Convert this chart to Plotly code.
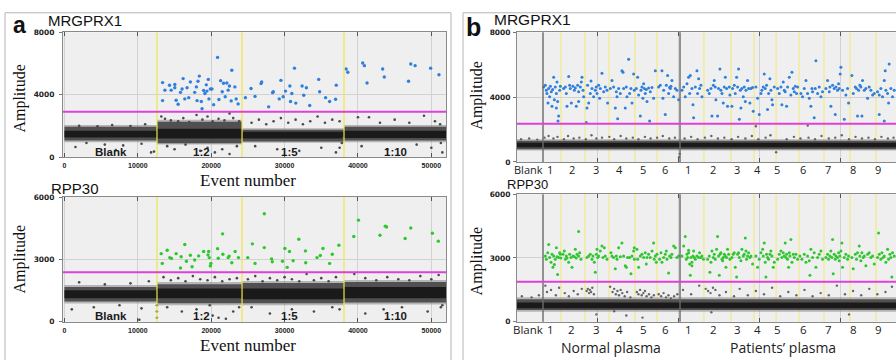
import plotly.graph_objects as go

W, H = 896, 360

# ---------------- DATA ----------------
# Panel a: dilution series (event number, amplitude)
a_seg_bounds = [0, 12610, 24200, 38100, 52000]
a_seg_labels = ["Blank", "1:2", "1:5", "1:10"]
a_seg_label_x = [6280, 18700, 30700, 45060]

a_mrg_threshold = 2900
a_rpp_threshold = 2380

# negative droplet band per segment (low, high)
a_mrg_band_halo = [(950, 2050), (800, 2400), (920, 1850), (950, 2050)]
a_mrg_band_outer = [(1060, 1940), (890, 2270), (1000, 1750), (1060, 1940)]
a_mrg_band_core = [(1250, 1690), (1190, 1810), (1190, 1620), (1230, 1690)]
a_rpp_band_halo = [(880, 1770), (800, 1910), (800, 1960), (840, 2010)]
a_rpp_band_outer = [(975, 1680), (895, 1810), (895, 1870), (930, 1920)]
a_rpp_band_core = [(1130, 1520), (1130, 1600), (1085, 1600), (1130, 1680)]

a_mrg_pos = [
    (13370, 4775), (13370, 3620), (13690, 4290), (14320, 4600), (14540, 4290), (15040, 4650),
    (15040, 4440), (15220, 3640), (15490, 3390), (15810, 4150), (16030, 4360), (16170, 5030),
    (16400, 3730), (16710, 4440), (16940, 3810), (17160, 4820), (17750, 4150), (17980, 4500),
    (18070, 3620), (18200, 4860), (18380, 5190), (18650, 3560), (18750, 3100), (18970, 4270),
    (19150, 4080), (19330, 4630), (19420, 4230), (19600, 4980), (19690, 3730), (19880, 4360),
    (20100, 4360), (20330, 3350), (20870, 6390), (21050, 3690), (21280, 4900), (21500, 4190),
    (21680, 4730), (21910, 3870), (22130, 4750), (22310, 4290), (22490, 4560), (22720, 3600),
    (22810, 5570), (23220, 4500), (23400, 3730), (23670, 3410), (24660, 3810), (25430, 4400),
    (25970, 3890), (26790, 4710), (26880, 4820), (27830, 3220), (28370, 4130), (28460, 4190),
    (29270, 3730), (29500, 4920), (29810, 3870), (30130, 4230), (30720, 4560), (30810, 3560),
    (30990, 4080), (31350, 5700), (31530, 3460), (32390, 4560), (32610, 3960), (32970, 4440),
    (33430, 3310), (34650, 4980), (34780, 4190), (35590, 3810), (36140, 3560), (36950, 3710),
    (37040, 4610), (38390, 5650), (38620, 5440), (40650, 6030), (40880, 5860), (41240, 4750),
    (43370, 5650), (43590, 5130), (46890, 4860), (47200, 5970), (47790, 5860), (49910, 5700),
    (51040, 5280),
]
a_mrg_rain = [
    (2000, 2000), (4500, 1980), (6500, 2050), (9000, 1990), (11000, 2100), (3000, 900),
    (5500, 800), (8000, 750), (10500, 850), (11800, 300), (12200, 350), (1500, 650), (7000, 450),
    (13200, 2600), (13700, 2450), (14500, 2350), (15500, 2300), (16200, 2500), (17000, 2250),
    (18000, 2700), (18800, 2400), (19500, 2600), (20200, 2300), (21000, 2450), (21800, 2350),
    (22500, 2800), (23000, 2500), (23800, 2300), (14000, 700), (15000, 500), (16500, 800),
    (18500, 400), (19500, 600), (20500, 300), (21500, 500), (22500, 200), (23500, 700),
    (25500, 2200), (26500, 2400), (27500, 2100), (28500, 2300), (29500, 2500), (30500, 2200),
    (31500, 2400), (32500, 2100), (33500, 2300), (34500, 2600), (35500, 2200), (36500, 2400),
    (37500, 2300), (26000, 700), (29000, 500), (32000, 400), (35000, 600), (37000, 300),
    (37500, 600), (37800, 900), (38000, 1200), (40000, 2550), (41500, 2550), (43000, 2200),
    (45000, 2400), (47000, 2200), (49000, 2650), (50500, 2300), (51200, 2100), (40500, 700),
    (44000, 500), (48000, 800), (50000, 600), (51500, 300), (51300, 900),
]
a_rpp_pos = [
    (13190, 3280), (13330, 2810), (14000, 3440), (14360, 3090), (14590, 3050), (15220, 3280),
    (15810, 2590), (15900, 3130), (16400, 3720), (16620, 2910), (17160, 3200), (17390, 2650),
    (17750, 2970), (18290, 3170), (18970, 3380), (19560, 3220), (19650, 3380), (19740, 3090),
    (19880, 2690), (19960, 2810), (20870, 3520), (20960, 3060), (21550, 4230), (21590, 3250),
    (22310, 3090), (22450, 3160), (22810, 2840), (23260, 3380), (23710, 3090), (24980, 3090),
    (25610, 3750), (25970, 2810), (27240, 5200), (27240, 3570), (28230, 3030), (28320, 2890),
    (29720, 2910), (30040, 3530), (30350, 2620), (30670, 3380), (31170, 2940), (31940, 3970),
    (32840, 3410), (32880, 2840), (34420, 3090), (34870, 3190), (35230, 3530), (36140, 2810),
    (36500, 3250), (37400, 3680), (39430, 4100), (40070, 4890), (43000, 4160), (43720, 4600),
    (43900, 4560), (46430, 4010), (47200, 4510), (50140, 4260), (50950, 3880),
]
a_rpp_rain = [
    (2000, 1900), (5500, 1800), (9000, 1850), (11500, 1950), (1000, 600), (4000, 700),
    (7500, 800), (10500, 650), (10200, 100), (12600, 200), (12600, 500), (12600, 800),
    (13500, 2150), (14500, 2000), (15500, 2100), (16500, 1950), (17500, 2200), (18500, 2050),
    (19500, 2000), (20500, 2150), (21500, 1950), (22500, 2050), (23500, 2100), (14000, 700),
    (16000, 500), (18000, 600), (19800, 800), (20200, 300), (21000, 200), (22000, 150),
    (23000, 500), (23800, 700), (25000, 2050), (26000, 2200), (27000, 1950), (28000, 2100),
    (29000, 2000), (30000, 2150), (31000, 2050), (32000, 1950), (33000, 2300), (34000, 2000),
    (35000, 2100), (36000, 1950), (37000, 2150), (25500, 700), (28000, 400), (31000, 600),
    (34000, 500), (36500, 700), (37500, 600), (39500, 2300), (41000, 2100), (42500, 2000),
    (44000, 2150), (45500, 2050), (47000, 2000), (48500, 2200), (50000, 2050), (51000, 2250),
    (41000, 400), (43500, 600), (46000, 700), (49500, 500), (51300, 700), (51500, 800),
]

# Panel b: plasma samples
b_range_end = 46800
b_well_bounds = [3210, 5430, 8400, 11360, 14570, 17290, 20130, 23090, 26430, 29270,
                 31990, 34830, 37910, 41130, 44340]
b_separators = [3210, 20130]
b_well_labels = ["Blank", "1", "2", "3", "4", "5", "6", "1", "2", "3", "4", "5", "6", "7", "8", "9"]
b_well_label_x = [1360, 4080, 6790, 9760, 12600, 15560, 18280, 21120, 24210, 27170, 29640,
                  32110, 35320, 38410, 41500, 44580]
b_groups = ["Normal plasma", "Patients\u2019 plasma"]
b_group_x = [11610, 32850]

b_mrg_threshold = 2350
b_rpp_threshold = 1880
b_mrg_band = {"halo": (700, 1400), "outer": (790, 1310), "core": (900, 1185)}
b_rpp_band = {"halo": (470, 1150), "outer": (560, 1060), "core": (640, 915)}

b_mrg_normal = [
    (3290, 4630), (3500, 4730), (3620, 4430), (3700, 4230), (3910, 4530), (4030, 4030),
    (4120, 4670), (4240, 4330), (4400, 4470), (4530, 5230), (4610, 3830), (4730, 4630),
    (4860, 4230), (4940, 4930), (5020, 3730), (5140, 2830), (5060, 2530), (5270, 4430),
    (5350, 4670), (4320, 3430), (3830, 3630), (4860, 3330),
    (5760, 4530), (5970, 4630), (6170, 3430), (6380, 5270), (6580, 4530), (6710, 3630),
    (6910, 4670), (7080, 4430), (7200, 4570), (7320, 3430), (7490, 4730), (7610, 3730),
    (7820, 4630), (7940, 4930), (8020, 5230), (8150, 4430), (8230, 4030), (6090, 4230),
    (6500, 4730), (7610, 4330),
    (8560, 2430), (8640, 3330), (8850, 3630), (9050, 4230), (9140, 4990), (9260, 4530),
    (9460, 4030), (9670, 4430), (9790, 4630), (9880, 4230), (10080, 4730), (10290, 4530),
    (10490, 5470), (10700, 4330), (10900, 4630), (11110, 4430), (11190, 3630), (8720, 4730),
    (10210, 3930),
    (11520, 4530), (11730, 5030), (11930, 4630), (12140, 3330), (12260, 4330), (12430, 2670),
    (12550, 4530), (12760, 4230), (12960, 5630), (13090, 5530), (13170, 4530), (13370, 3330),
    (13500, 4630), (13790, 6340), (13910, 4230), (14070, 4530), (14200, 3630), (14400, 5430),
    (14480, 4430), (12350, 4030), (13580, 4030),
    (14730, 4530), (14900, 5230), (15020, 4130), (15230, 2830), (15310, 4430), (15430, 4630),
    (15550, 3930), (15720, 4530), (15840, 4230), (15970, 4470), (16050, 3730), (16250, 4570),
    (16380, 2530), (16460, 4330), (16670, 4590), (16870, 3930), (17080, 5630), (15640, 4830),
    (17490, 4630), (17690, 4730), (17900, 5630), (18110, 4430), (18310, 2930), (18440, 4730),
    (18600, 5330), (18720, 4230), (18850, 4590), (18930, 4530), (19010, 4670), (19130, 5030),
    (19340, 4030), (19550, 4530), (19750, 4430), (19960, 3830), (18020, 3930),
]
b_mrg_patients = [
    (20370, 4430), (20580, 4630), (20780, 4030), (20990, 4830), (21190, 5230), (21320, 4230),
    (21400, 5330), (21600, 4530), (21730, 3530), (21810, 2730), (22020, 4630), (22220, 5630),
    (22300, 4230), (22550, 4530), (22710, 4730), (22840, 4030), (22430, 5130),
    (23540, 4430), (23740, 4230), (23950, 4530), (24070, 2830), (24240, 4730), (24360, 5030),
    (24560, 3830), (24770, 2830), (24890, 4530), (25060, 5730), (25180, 4430), (25310, 4230),
    (25470, 3630), (25590, 4630), (25720, 5230), (25880, 4530), (26000, 3430), (26210, 4630),
    (26290, 4130), (24480, 4630),
    (26540, 3430), (26620, 4530), (26830, 4730), (26950, 4230), (27120, 5230), (27240, 4630),
    (27360, 5730), (27450, 2630), (27570, 4430), (27650, 3330), (27770, 4530), (27940, 4030),
    (28060, 4630), (28190, 3730), (28270, 4430), (28470, 5030), (28600, 4530), (28760, 3630),
    (28890, 4530), (29090, 4590), (29170, 3130),
    (29500, 4630), (29710, 3930), (29910, 2930), (30120, 4230), (30240, 4430), (30410, 4630),
    (30530, 5430), (30650, 4530), (30820, 4730), (30940, 3230), (31070, 4230), (31230, 5130),
    (31350, 4430), (31480, 3830), (31770, 4630), (31560, 3530),
    (32180, 4530), (32380, 4230), (32590, 4630), (32710, 3530), (32880, 4930), (33000, 4430),
    (33120, 4330), (33290, 3430), (33410, 4630), (33620, 5230), (33820, 4130), (33950, 5530),
    (34110, 4530), (34240, 4330), (34360, 4670), (34520, 4230), (34650, 4630),
    (35060, 4230), (35260, 4030), (35470, 4530), (35680, 5030), (35880, 4230), (36090, 3930),
    (36290, 3430), (36500, 4330), (36700, 2730), (36830, 4530), (36910, 6240), (37120, 4230),
    (37320, 4630), (37530, 4030), (37730, 4330), (36420, 4530),
    (38140, 4530), (38350, 5030), (38560, 4330), (38640, 4630), (38760, 3430), (38970, 4730),
    (39170, 4530), (39300, 2930), (39380, 4630), (39580, 4430), (39710, 4830), (39790, 4530),
    (39910, 5430), (40000, 5840), (40200, 4430), (40410, 2630), (40610, 4130), (40820, 4530),
    (40940, 3630),
    (41350, 5330), (41520, 4230), (41770, 4630), (41930, 4530), (42050, 2830), (42180, 4430),
    (42340, 4730), (42460, 4630), (42590, 2830), (42670, 5030), (42880, 4430), (43080, 4530),
    (43290, 3930), (43490, 4630), (43700, 4430), (43910, 4130), (44110, 4230),
    (44520, 4330), (44730, 4130), (44930, 4530), (45140, 4030), (45350, 5030), (45470, 5630),
    (45550, 4430), (45760, 4230), (45960, 6040), (46170, 4530), (46370, 4030), (46580, 4430),
    (44730, 2930), (45350, 2530), (45880, 3630),
]
b_mrg_rain = [
    (500, 1400), (1500, 1450), (2500, 1380), (3400, 1500), (3900, 1600), (4500, 1450),
    (5000, 1550), (5800, 1400), (6300, 1600), (7000, 1450), (7700, 1500), (8500, 1400),
    (9200, 1650), (9800, 1450), (10500, 1500), (11400, 1550), (12000, 1400), (12800, 1600),
    (13500, 1450), (14300, 1500), (15000, 1400), (15800, 1550), (16500, 1450), (17300, 1500),
    (18000, 1600), (18800, 1450), (19500, 1500), (20100, 500), (20000, 300), (20700, 1450),
    (21500, 1550), (22300, 1400), (23200, 1500), (24000, 1600), (24800, 1450), (25600, 1500),
    (26500, 1400), (27300, 1550), (28200, 1450), (29000, 1600), (29800, 1400), (30700, 1500),
    (31300, 1650), (29500, 2200), (35900, 2250), (33300, 1400), (34200, 1550), (35000, 1450),
    (36000, 1500), (36800, 1400), (37600, 1600), (38500, 1450), (39300, 1500), (40100, 1650),
    (41000, 1400), (41800, 1550), (42600, 1450), (43400, 1500), (44200, 1400), (45000, 1550),
    (45800, 1450), (46500, 1500), (32000, 600),
]
b_rpp_normal = [
    (3500, 3095), (3620, 2945), (3790, 3250), (3910, 3635), (4030, 3025), (4200, 2795),
    (4320, 3175), (4440, 2565), (4530, 3095), (4730, 2945), (4860, 3480), (4940, 3055),
    (5020, 2230), (5140, 3025), (5270, 3250), (5350, 3175), (5400, 2995), (4610, 2690),
    (5680, 3175), (5840, 3330), (5970, 2945), (6090, 3095), (6170, 2995), (6380, 2795),
    (6500, 3175), (6670, 3025), (6790, 2565), (6910, 3095), (7080, 3055), (7200, 3405),
    (7320, 2995), (7410, 3175), (7610, 3095), (7740, 3250), (7900, 2945), (7610, 4245),
    (8640, 3025), (8850, 3095), (9050, 3175), (9260, 2945), (9380, 3095), (9550, 2795),
    (9670, 2335), (9790, 3175), (9880, 3405), (9960, 3025), (10080, 3095), (10290, 3330),
    (10490, 3560), (10620, 3025), (10780, 3480), (10900, 3095), (11110, 2945),
    (11600, 3250), (11730, 3095), (11930, 3025), (12140, 2490), (12260, 3095), (12350, 2945),
    (12550, 3480), (12760, 3055), (12960, 3710), (13170, 3095), (13370, 2640), (13500, 2565),
    (13660, 3025), (13910, 3025), (14070, 2260), (14200, 3095), (14400, 3330), (14480, 3480),
    (14500, 2945),
    (14810, 3405), (14900, 2945), (15020, 2565), (15230, 3095), (15430, 3175), (15640, 3025),
    (15840, 3250), (15970, 2720), (16050, 3025), (16250, 3175), (16460, 3025), (16670, 3330),
    (16870, 3710), (16950, 2945), (17080, 3095), (17200, 2795), (17280, 3175),
    (17610, 2945), (17780, 3250), (17900, 2795), (18110, 3025), (18310, 3175), (18440, 3330),
    (18520, 2945), (18720, 2290), (18850, 3095), (19010, 3025), (19130, 3175), (19340, 3560),
    (19550, 3480), (19750, 3025), (19960, 3095),
]
b_rpp_patients = [
    (20370, 3095), (20580, 3560), (20780, 4015), (20900, 2945), (20990, 3175), (21070, 3025),
    (21190, 3250), (21320, 2720), (21400, 2185), (21480, 3025), (21600, 2795), (21730, 3095),
    (21810, 3330), (21890, 3025), (22020, 2945), (22220, 3095), (22430, 3025), (22550, 3250),
    (22710, 3025), (22840, 3095), (23040, 2945), (21190, 3360), (21600, 2640),
    (23540, 2945), (23740, 3095), (23820, 2335), (23950, 2795), (24070, 3330), (24240, 3025),
    (24360, 3175), (24480, 2945), (24650, 3405), (24770, 4015), (24890, 3095), (24980, 2185),
    (25060, 3175), (25180, 3250), (25310, 2945), (25390, 2870), (25470, 3025), (25590, 3175),
    (25720, 3095), (25800, 2565), (25880, 3025), (26000, 3405), (26130, 3175), (26290, 2945),
    (26540, 3025), (26700, 3175), (26830, 3250), (26950, 2565), (27120, 2105), (27240, 3175),
    (27360, 3250), (27450, 3025), (27650, 2870), (27770, 3405), (27940, 3095), (28060, 3175),
    (28190, 3940), (28270, 3330), (28350, 2945), (28470, 3095), (28600, 3250), (28760, 3025),
    (28890, 3095), (29090, 2720),
    (29500, 3095), (29710, 2565), (29910, 2945), (30120, 3250), (30330, 3405), (30410, 3095),
    (30530, 3710), (30650, 2795), (30740, 2105), (30820, 3175), (30940, 3025), (31070, 2945),
    (31230, 3175), (31350, 3330), (31480, 3095), (31640, 2565), (31770, 2795),
    (32180, 2945), (32380, 3175), (32590, 3330), (32710, 3025), (32880, 3250), (33000, 3095),
    (33120, 3710), (33210, 3025), (33290, 3175), (33410, 2945), (33540, 2565), (33620, 3250),
    (33700, 3095), (33820, 3865), (33950, 2795), (34110, 3175), (34240, 3025), (34440, 3175),
    (34650, 2945),
    (34930, 3095), (35180, 2945), (35470, 3175), (35680, 2795), (35880, 3095), (36090, 2870),
    (36170, 2185), (36290, 3405), (36500, 3025), (36700, 3250), (36910, 2565), (37120, 3025),
    (37320, 3175), (37530, 3330), (37730, 2945),
    (38140, 3025), (38350, 3175), (38470, 2945), (38640, 3095), (38760, 3330), (38880, 3025),
    (38970, 3865), (39050, 2260), (39170, 3175), (39300, 2945), (39380, 3095), (39580, 3025),
    (39710, 3250), (39790, 2870), (39870, 3095), (40000, 3330), (40120, 3710), (40200, 2565),
    (40410, 3025), (40610, 3175), (40820, 2945), (40940, 3095),
    (41350, 3025), (41520, 2490), (41770, 3175), (41930, 2945), (42050, 3250), (42260, 3560),
    (42340, 3095), (42460, 2870), (42590, 3250), (42750, 3025), (42880, 3095), (43080, 2640),
    (43290, 3175), (43490, 3250), (43700, 3025), (43910, 3095), (44110, 2720),
    (44520, 3025), (44650, 4170), (44730, 3175), (44930, 2945), (45060, 3250), (45220, 3025),
    (45350, 3095), (45550, 2795), (45760, 3405), (45880, 2945), (46050, 3175), (46170, 3025),
    (46290, 2105), (46370, 3250), (46580, 3095),
]
b_rpp_rain = [
    (600, 1200), (1800, 1150), (2700, 1250), (3500, 1700), (3700, 1400), (4200, 1500),
    (4800, 1250), (5200, 1600), (5900, 1350), (6400, 1200), (7000, 1450), (7500, 1300),
    (8000, 1550), (8600, 1450), (8750, 1550), (8900, 1350), (9000, 1500), (9150, 1400),
    (9300, 1600), (9500, 1300), (11500, 1650), (11800, 1400), (12000, 1550), (12200, 1300),
    (12400, 1450), (12600, 1250), (12800, 1500), (13000, 1350), (13300, 1200), (13600, 1400),
    (14000, 1150), (14800, 1400), (15000, 1300), (15200, 1500), (15400, 1250), (15600, 1350),
    (15800, 1450), (16000, 1200), (16300, 1300), (16600, 1150), (16900, 1250), (17500, 1300),
    (17800, 1200), (18100, 1350), (18400, 1150), (18700, 1250), (19000, 1100), (19400, 1200),
    (19800, 1300), (20500, 1500), (21500, 1300), (22500, 1700), (23300, 1550), (23600, 1450),
    (23900, 1350), (24200, 1600), (24500, 1500), (25000, 1250), (25800, 1400), (26800, 1200),
    (27500, 1550), (28500, 1250), (29500, 1450), (30500, 1300), (31500, 1600), (32500, 1200),
    (33500, 1400), (34500, 1250), (35500, 1500), (36500, 1200), (37500, 1350), (38500, 1250),
    (39500, 1700), (40500, 1300), (41500, 1450), (42500, 1250), (43500, 1550), (44500, 1300),
    (45500, 1400), (46300, 1650), (9800, 350), (12000, 500), (13500, 300), (15500, 200),
    (24000, 450), (41000, 350),
]

# ---------------- STYLE ----------------
BLUE = "#2f7fdc"
GREEN = "#2ec82e"
RAIN = "#4a4a4a"
MAGENTA = "#e03fd9"
YELLOW_A = "#efe64c"
YELLOW_B = "#f1ea8a"
PLOT_BG = "#efefef"
GRID = "#d2d2d2"
FRAME = "#8a8a8a"


def pxx(x):
    return x / W


def pxy(y):
    return 1 - y / H


fig = go.Figure()


def band_trace(x0, x1, lo, hi, color, xa, ya):
    return go.Scatter(x=[x0, x1, x1, x0, x0], y=[lo, lo, hi, hi, lo], mode="lines",
                      fill="toself", fillcolor=color, line=dict(width=0),
                      hoverinfo="skip", showlegend=False, xaxis=xa, yaxis=ya)


def pts(data, color, size, xa, ya, opacity=1.0):
    return go.Scatter(x=[d[0] for d in data], y=[d[1] for d in data], mode="markers",
                      marker=dict(color=color, size=size, line=dict(width=0)),
                      opacity=opacity, hoverinfo="skip", showlegend=False, xaxis=xa, yaxis=ya)


# panel a bands
for (halo, outer, core, xa, ya) in [
    (a_mrg_band_halo, a_mrg_band_outer, a_mrg_band_core, "x", "y"),
    (a_rpp_band_halo, a_rpp_band_outer, a_rpp_band_core, "x2", "y2"),
]:
    for i in range(4):
        x0, x1 = a_seg_bounds[i], a_seg_bounds[i + 1]
        fig.add_trace(band_trace(x0, x1, *halo[i], "rgba(110,110,110,0.45)", xa, ya))
        fig.add_trace(band_trace(x0, x1, *outer[i], "#505050", xa, ya))
        fig.add_trace(band_trace(x0, x1, *core[i], "#1a1a1a", xa, ya))

# panel b bands
for (bd, xa, ya) in [(b_mrg_band, "x3", "y3"), (b_rpp_band, "x4", "y4")]:
    fig.add_trace(band_trace(0, b_range_end, *bd["halo"], "rgba(110,110,110,0.45)", xa, ya))
    fig.add_trace(band_trace(0, b_range_end, *bd["outer"], "#505050", xa, ya))
    fig.add_trace(band_trace(0, b_range_end, *bd["core"], "#1a1a1a", xa, ya))

fig.add_trace(pts(a_mrg_rain, RAIN, 2.6, "x", "y"))
fig.add_trace(pts(a_rpp_rain, RAIN, 2.6, "x2", "y2"))
fig.add_trace(pts(b_mrg_rain, "#666666", 2.4, "x3", "y3"))
fig.add_trace(pts(b_rpp_rain, "#666666", 2.4, "x4", "y4"))
fig.add_trace(pts(a_mrg_pos, BLUE, 3.4, "x", "y"))
fig.add_trace(pts(a_rpp_pos, GREEN, 3.4, "x2", "y2"))
fig.add_trace(pts(b_mrg_normal + b_mrg_patients, BLUE, 3.0, "x3", "y3"))
fig.add_trace(pts(b_rpp_normal + b_rpp_patients, GREEN, 3.0, "x4", "y4"))

shapes = []
# panel frames
shapes.append(dict(type="rect", xref="paper", yref="paper", x0=pxx(5), x1=pxx(451),
                   y0=pxy(372), y1=pxy(9), line=dict(color="#b4b4b4", width=1), layer="below"))
shapes.append(dict(type="rect", xref="paper", yref="paper", x0=pxx(463), x1=pxx(910),
                   y0=pxy(372), y1=pxy(9), line=dict(color="#b4b4b4", width=1), layer="below"))

# yellow segment lines panel a
for xa in ["x", "x2"]:
    for xb in a_seg_bounds[1:4]:
        shapes.append(dict(type="line", xref=xa, yref=f"{'y' if xa == 'x' else 'y2'} domain",
                           x0=xb, x1=xb, y0=0, y1=1, line=dict(color=YELLOW_A, width=1.2),
                           layer="above"))
# yellow well lines panel b
for xa, ya in [("x3", "y3"), ("x4", "y4")]:
    for xb in b_well_bounds:
        if xb in b_separators:
            continue
        shapes.append(dict(type="line", xref=xa, yref=f"{ya} domain", x0=xb, x1=xb, y0=0, y1=1,
                           line=dict(color=YELLOW_B, width=1.2), layer="below"))
    for xb in b_separators:
        shapes.append(dict(type="line", xref=xa, yref=f"{ya} domain", x0=xb, x1=xb, y0=0, y1=1,
                           line=dict(color="#6a6a6a", width=1.4), layer="above"))

# thresholds
for xa, ya, thr in [("x", "y", a_mrg_threshold), ("x2", "y2", a_rpp_threshold),
                    ("x3", "y3", b_mrg_threshold), ("x4", "y4", b_rpp_threshold)]:
    shapes.append(dict(type="line", xref=f"{xa} domain", yref=ya, x0=0, x1=1, y0=thr, y1=thr,
                       line=dict(color=MAGENTA, width=2), layer="above"))

ann = []
SANS = "Liberation Sans"
SERIF = "Liberation Serif"
CAL = "Open Sans"


def A(text, x, y, size, family=SANS, bold=False, xanchor="center", yanchor="middle",
      textangle=0, color="#111", xref="paper", yref="paper"):
    ann.append(dict(text=f"<b>{text}</b>" if bold else text, x=x, y=y, xref=xref, yref=yref,
                    showarrow=False, xanchor=xanchor, yanchor=yanchor, textangle=textangle,
                    borderpad=0, font=dict(family=family, size=size, color=color)))


A("a", pxx(19), pxy(22), 23, bold=True)
A("b", pxx(474), pxy(24), 25, bold=True)
A("MRGPRX1", pxx(84.5), pxy(17), 15)
A("RPP30", pxx(74.5), pxy(189), 15)
A("MRGPRX1", pxx(532), pxy(16), 15.5)
A("RPP30", pxx(527), pxy(185), 13)
A("Amplitude", pxx(20), pxy(97), 16, family=SERIF, textangle=-90)
A("Amplitude", pxx(20), pxy(262), 16, family=SERIF, textangle=-90)
A("Amplitude", pxx(477), pxy(94), 16, family=SERIF, textangle=-90)
A("Amplitude", pxx(477), pxy(264), 16, family=SERIF, textangle=-90)
A("Event number", pxx(248), pxy(181), 17, family=SERIF)
A("Event number", pxx(248), pxy(350), 17, family=SERIF)

for lab, lx in zip(a_seg_labels, a_seg_label_x):
    A(lab, lx, pxy(152), 11.5, bold=True, xref="x", color="#1a1a1a")
    A(lab, lx, pxy(320), 11.5, bold=True, xref="x2", color="#1a1a1a")

for lab, lx in zip(b_well_labels, b_well_label_x):
    A(lab, lx, pxy(169.5), 11, family=CAL, xref="x3", color="#222")
    A(lab, lx, pxy(334), 11.5, family=CAL, xref="x4", color="#222")
for lab, gx in zip(b_groups, b_group_x):
    A(lab, gx, pxy(352), 14, family=CAL, xref="x4", color="#222")

xtickfont = dict(family=SANS, size=7, color="#222", weight="bold")
ytickfont = dict(family="DejaVu Sans", size=7.5, color="#222", weight="bold")

common_x = dict(showgrid=True, gridcolor=GRID, gridwidth=1, zeroline=False, showline=True,
                linecolor=FRAME, linewidth=1, ticks="inside", ticklen=4, tickcolor="#555",
                dtick=10000, tick0=0, tickformat="d")
common_y = dict(showgrid=True, gridcolor=GRID, gridwidth=1, zeroline=False, showline=True,
                linecolor=FRAME, linewidth=1, ticks="outside", ticklen=3, tickcolor="#777",
                tickfont=ytickfont, tickformat="d")

fig.update_layout(
    width=W, height=H, margin=dict(l=0, r=0, t=0, b=0),
    paper_bgcolor="white", plot_bgcolor=PLOT_BG, showlegend=False,
    shapes=shapes, annotations=ann,
    xaxis=dict(**common_x, domain=[pxx(63), pxx(446)], range=[-200, 52000], mirror="ticks",
               tickfont=xtickfont, ticklabelstandoff=2, anchor="y"),
    yaxis=dict(**common_y, domain=[pxy(157), pxy(29)], range=[0, 8000],
               tickvals=[0, 4000, 8000], mirror=True, anchor="x", ticklabelstandoff=3),
    xaxis2=dict(**common_x, domain=[pxx(63), pxx(446)], range=[-200, 52000], mirror="ticks",
                tickfont=xtickfont, ticklabelstandoff=2, anchor="y2"),
    yaxis2=dict(**common_y, domain=[pxy(326), pxy(198)], range=[0, 6000],
                tickvals=[0, 3000, 6000], mirror=True, anchor="x2", ticklabelstandoff=3),
    xaxis3=dict(**common_x, domain=[pxx(517), 1.0], range=[0, b_range_end], mirror="ticks",
                showticklabels=False, anchor="y3"),
    yaxis3=dict(**common_y, domain=[pxy(162), pxy(29)], range=[0, 8000],
                tickvals=[0, 4000, 8000], mirror=False, anchor="x3", ticklabelstandoff=1),
    xaxis4=dict(**common_x, domain=[pxx(517), 1.0], range=[0, b_range_end], mirror="ticks",
                showticklabels=False, anchor="y4"),
    yaxis4=dict(**common_y, domain=[pxy(326), pxy(195)], range=[0, 6000],
                tickvals=[0, 3000, 6000], mirror=False, anchor="x4", ticklabelstandoff=1),
)

fig.write_html("out.html")
